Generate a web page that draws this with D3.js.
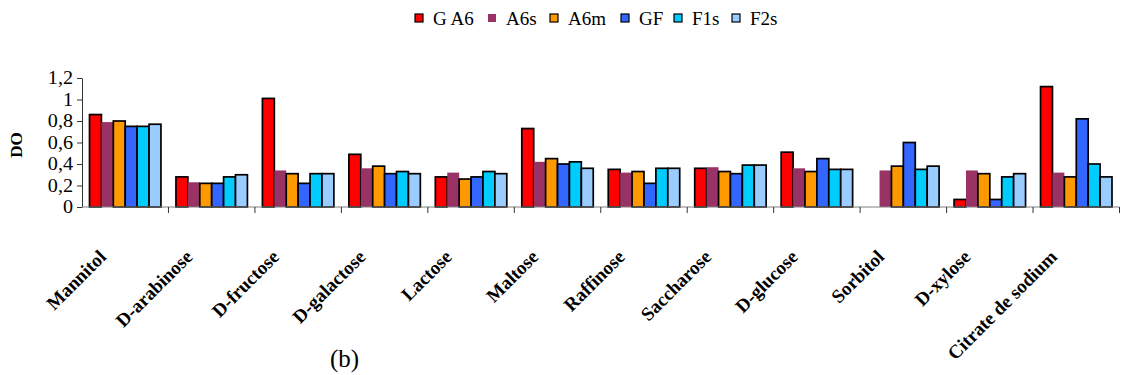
<!DOCTYPE html>
<html><head><meta charset="utf-8">
<script src="https://cdn.jsdelivr.net/npm/d3@7"></script>
<style>body{margin:0;background:#fff} text{font-family:"Liberation Serif","Times New Roman","DejaVu Serif",serif;}</style>
</head><body>
<svg id="c" width="1123" height="375"></svg>
<script>
const categories = ["Mannitol","D-arabinose","D-fructose","D-galactose","Lactose","Maltose","Raffinose","Saccharose","D-glucose","Sorbitol","D-xylose","Citrate de sodium"];
const seriesNames = ["G A6","A6s","A6m","GF","F1s","F2s"];
const seriesColors = ["#FF0000","#993366","#FF9900","#3366FF","#00CCFF","#99CCFF"];
const GA6 = [0.86,0.28,1.01,0.49,0.28,0.73,0.35,0.36,0.51,0,0.07,1.12];
const A6s = [0.79,0.23,0.34,0.36,0.32,0.42,0.32,0.37,0.36,0.34,0.34,0.32];
const A6m = [0.80,0.22,0.31,0.38,0.26,0.45,0.33,0.33,0.33,0.38,0.31,0.28];
const GF  = [0.75,0.22,0.22,0.31,0.28,0.40,0.22,0.31,0.45,0.60,0.07,0.82];
const F1s = [0.75,0.28,0.31,0.33,0.33,0.42,0.36,0.39,0.35,0.35,0.28,0.40];
const F2s = [0.77,0.30,0.31,0.31,0.31,0.36,0.36,0.39,0.35,0.38,0.31,0.28];
const yTicks = [0,0.2,0.4,0.6,0.8,1,1.2];
const series = [GA6,A6s,A6m,GF,F1s,F2s];

const svg = d3.select("#c");
const x0 = d3.scaleBand().domain(categories).range([82,1119.5]).paddingInner(0).paddingOuter(0);
const pad = 7.5;
const x1 = d3.scaleBand().domain(seriesNames).range([pad, x0.bandwidth()-pad]);
const y = d3.scaleLinear().domain([0,1.2]).range([207,78]);

// bars
const g = svg.append("g");
categories.forEach((c,ci)=>{
  seriesNames.forEach((s,si)=>{
    const v = series[si][ci];
    if (v<=0) return;
    g.append("rect")
      .attr("x", x0(c)+x1(s))
      .attr("y", y(v))
      .attr("width", x1.bandwidth())
      .attr("height", y(0)-y(v))
      .attr("fill", seriesColors[si])
      .attr("stroke", si===1 ? "none" : "#000")
      .attr("stroke-width", 1.7);
  });
});

// y axis
const yAxis = d3.axisLeft(y).tickValues(yTicks).tickSize(5).tickSizeOuter(0)
  .tickFormat(d => String(d).replace(".", ","));
const ya = svg.append("g").attr("transform","translate(82,0)").call(yAxis);
ya.attr("font-family", null);
ya.select(".domain").attr("stroke","#333");
ya.selectAll(".tick line").attr("stroke","#333");
ya.selectAll("text").attr("font-size",18).attr("fill","#000")
  .attr("transform","scale(1.12,1)").attr("x", -9/1.12);

// x axis
const xa = svg.append("g").attr("transform","translate(0,207)");
xa.append("line").attr("x1",82).attr("x2",1119.5).attr("y1",0).attr("y2",0).attr("stroke","#808080").attr("stroke-width",1.2);
const bounds = categories.map(c=>x0(c)).concat([x0(categories[categories.length-1])+x0.bandwidth()]);
bounds.forEach((bx,i)=>{ if(i===0) return; xa.append("line").attr("x1",bx).attr("x2",bx).attr("y1",0).attr("y2",6).attr("stroke","#333"); });
categories.forEach(c=>{
  const cx = x0(c)+x0.bandwidth()/2;
  xa.append("text").text(c)
    .attr("transform",`translate(${cx-18},${51}) rotate(-45)`)
    .attr("text-anchor","end")
    .attr("font-weight","bold").attr("font-size",19).attr("fill","#000");
});

// y label
svg.append("text").text("DO").attr("transform","translate(22,145) rotate(-90)")
  .attr("text-anchor","middle").attr("font-weight","bold").attr("font-size",17);

// legend
const legX = [415,488,550,621,674,732];
seriesNames.forEach((s,i)=>{
  svg.append("rect").attr("x",legX[i]).attr("y",14).attr("width",8).attr("height",8)
    .attr("fill",seriesColors[i]).attr("stroke", i===1?"none":"#000").attr("stroke-width",1.2);
  svg.append("text").text(s).attr("x",legX[i]+18).attr("y",25)
    .attr("font-size",19);
});

// (b)
svg.append("text").text("(b)").attr("x",330).attr("y",367).attr("font-size",25);
</script>
</body></html>
